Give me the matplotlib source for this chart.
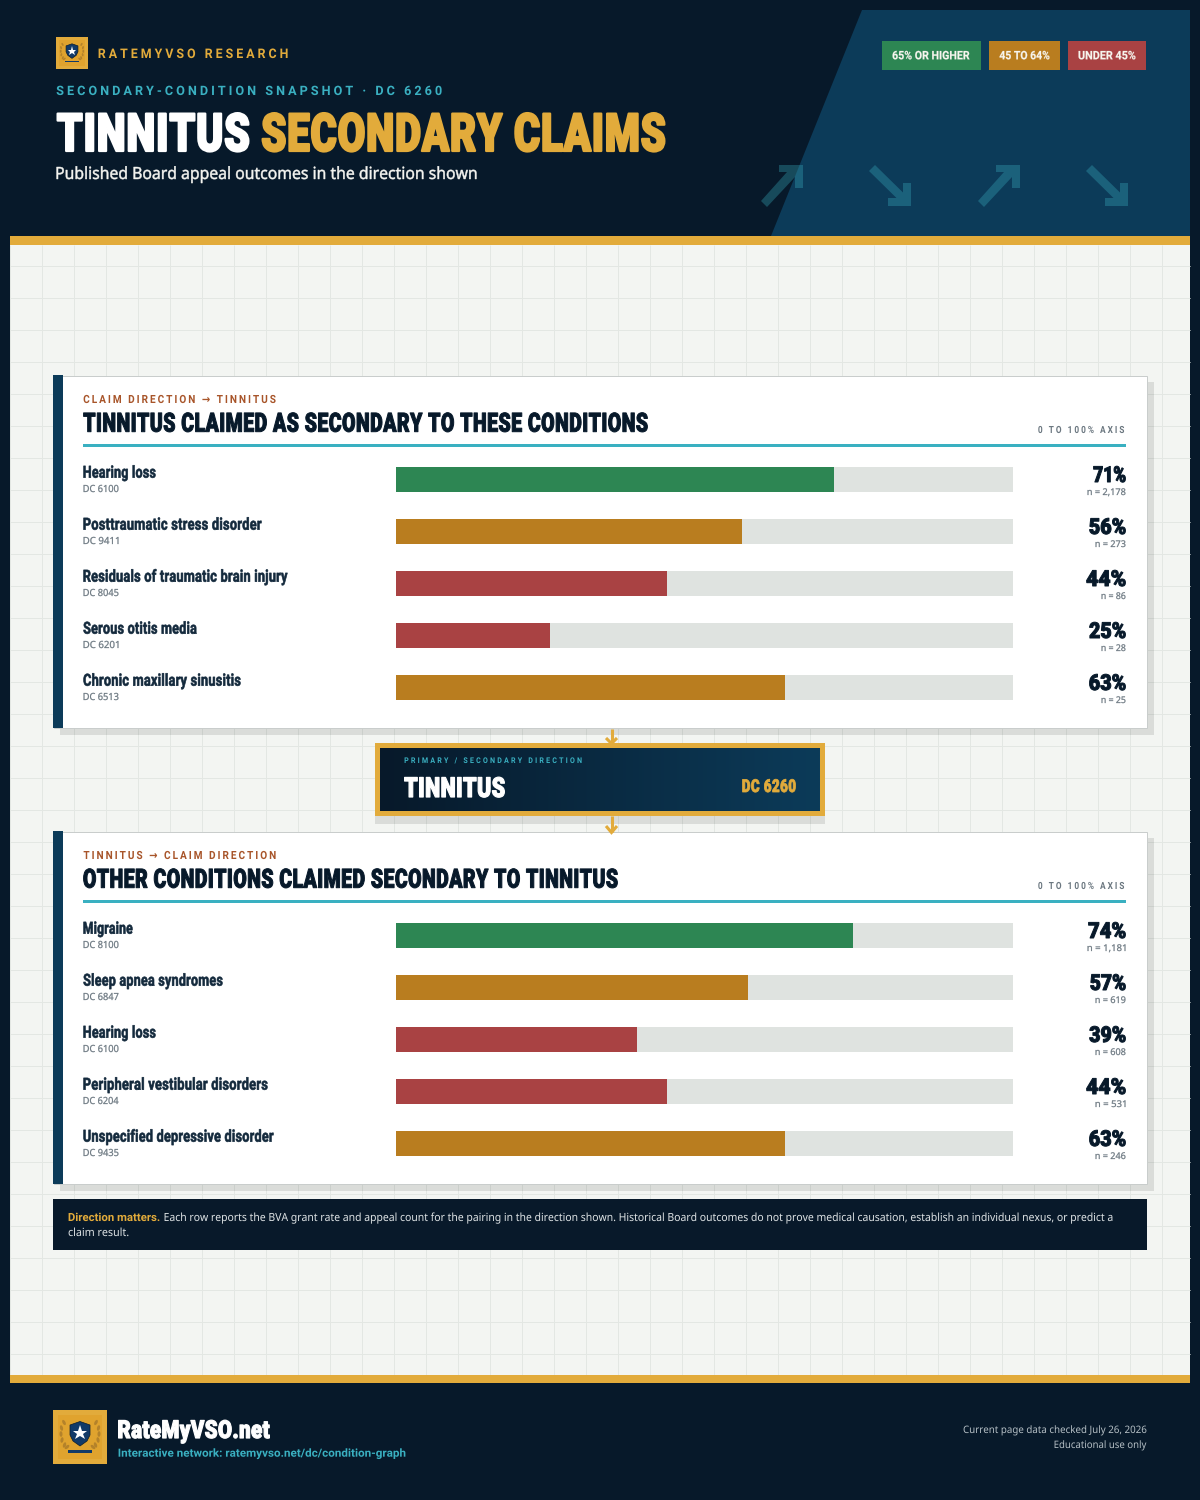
import numpy as np
import matplotlib
matplotlib.use("Agg")
import matplotlib.pyplot as plt
from matplotlib import font_manager as fm
from matplotlib.text import Text
from matplotlib.textpath import TextPath
from matplotlib.path import Path
from matplotlib.patches import Rectangle, Polygon, Ellipse
from matplotlib.transforms import Affine2D, Bbox
from matplotlib.ft2font import LoadFlags, FT2Font
from matplotlib.colors import LinearSegmentedColormap, to_rgba

# ---------- data ----------
top_names = ["Hearing loss", "Posttraumatic stress disorder", "Residuals of traumatic brain injury",
             "Serous otitis media", "Chronic maxillary sinusitis"]
top_codes = ["DC 6100", "DC 9411", "DC 8045", "DC 6201", "DC 6513"]
top_rates = [71, 56, 44, 25, 63]
top_counts = ["n = 2,178", "n = 273", "n = 86", "n = 28", "n = 25"]

bottom_names = ["Migraine", "Sleep apnea syndromes", "Hearing loss",
                "Peripheral vestibular disorders", "Unspecified depressive disorder"]
bottom_codes = ["DC 8100", "DC 6847", "DC 6100", "DC 6204", "DC 9435"]
bottom_rates = [74, 57, 39, 44, 63]
bottom_counts = ["n = 1,181", "n = 619", "n = 608", "n = 531", "n = 246"]

# ---------- layout (ink extents in px) ----------
top_name_right = [156, 262, 288, 197, 241]
bottom_name_right = [133, 223, 156, 268, 274]
top_pct_left = [1093, 1089, 1086, 1089, 1089]
bottom_pct_left = [1088, 1090, 1089, 1086, 1089]
top_n_left = [1087, 1095, 1101, 1101, 1101]
bottom_n_left = [1087, 1095, 1095, 1095, 1095]

INK = "#07192a"; NAVY = "#0c3b59"; GOLD = "#e2ab3b"; TEAL = "#3ab0c1"
GREEN = "#2d8653"; AMBER = "#b97d1f"; RED = "#a94243"
PAGE = "#f3f5f2"; GRID = "#e3e7e3"; TRACK = "#dfe3e0"; RUST = "#a8552a"; GREY = "#6b7780"

fig = plt.figure(figsize=(12, 15), dpi=100, facecolor=INK)
bg = fig.add_axes([0, 0, 1, 1], zorder=0)
bg.set_xlim(0, 1200); bg.set_ylim(1500, 0); bg.axis("off")

HEAVY = fm.FontProperties(family=["Roboto", "DejaVu Sans"], weight=900)
BOLD = fm.FontProperties(family=["Roboto", "DejaVu Sans"], weight=700)
SEMI = fm.FontProperties(family=["Noto Sans", "DejaVu Sans"], weight=600)
REG = fm.FontProperties(family=["Noto Sans", "DejaVu Sans"], weight=400)


class PxText(Text):
    """Real text artist with cap-height sizing, horizontal fit and letter spacing."""

    def __init__(self, x, y, s, prop, cap, x2=None, track=0.0, xs=1.0, ha="left", stroke=0.0, color="k", **kw):
        ffile = fm.findfont(prop)
        font = FT2Font(ffile)
        capratio = TextPath((0, 0), "H", size=100, prop=prop).get_extents().height / 100.0
        px = cap / capratio
        super().__init__(x, y, s, fontproperties=prop.copy(), color=color, ha=ha, va="baseline", **kw)
        font.set_size(100, 72)
        dj = fm.FontProperties(family="DejaVu Sans", weight=prop.get_weight(), size=100)
        djfont = FT2Font(fm.findfont(dj))
        djfont.set_size(100, 72)
        pieces = []
        pen = 0.0
        for i, c in enumerate(s):
            has = font.get_char_index(ord(c)) != 0
            f, fp = (font, prop) if has else (djfont, dj)
            g = f.load_char(ord(c), flags=LoadFlags.NO_HINTING)
            adv = g.linearHoriAdvance / 65536 / 100 * px
            if c != " ":
                p = TextPath((0, 0), c, size=px, prop=fp)
                pieces.append((pen, p.vertices.copy(), p.codes.copy(), i))
            pen += adv
        xs0 = []
        for off, v, co, i in pieces:
            m = co != Path.CLOSEPOLY
            xs0 += [v[m, 0].min() + off, v[m, 0].max() + off]
        lo, hi = min(xs0), max(xs0)
        if x2 is not None:
            xs = (x2 - x - track * (len(s) - 1)) / (hi - lo)
        # nominal size reflects the horizontal fit so measured text width stays honest
        self.set_fontsize(px * 72 / 100 * min(1.0, xs))
        vs, cs = [], []
        for off, v, co, i in pieces:
            v = v.copy()
            v[:, 0] = (v[:, 0] + off) * xs + i * track
            vs.append(v); cs.append(co)
        V = np.vstack(vs); C = np.concatenate(cs)
        m = C != Path.CLOSEPOLY
        self._ink_l = V[m, 0].min(); self._ink_r = V[m, 0].max()
        self._ink_b = V[m, 1].min(); self._ink_t = V[m, 1].max()
        self._glyphs = Path(V, C)
        self._stroke = stroke

    def _origin(self):
        dx, dy = self.get_transform().transform(self.get_unitless_position())
        dx -= self._ink_r if self.get_ha() == "right" else self._ink_l
        return dx, dy

    def draw(self, renderer):
        if not self.get_visible():
            return
        dx, dy = self._origin()
        gc = renderer.new_gc()
        col = to_rgba(self.get_color())
        gc.set_foreground(col)
        gc.set_linewidth(self._stroke * 72 / 100)
        gc.set_antialiased(True)
        renderer.draw_path(gc, self._glyphs, Affine2D().translate(dx, dy), col)
        gc.restore()

    def get_window_extent(self, renderer=None, dpi=None):
        dx, dy = self._origin()
        return Bbox([[dx + self._ink_l, dy + self._ink_b], [dx + self._ink_r, dy + self._ink_t]])


def T(x, y, s, prop, cap, **kw):
    zorder = kw.pop("zorder", 10)
    if kw.get("x2") is not None:
        x = x + 0.6
        kw["x2"] = kw["x2"] - 0.6 - (0.8 if kw.get("track", 0) > 1 else 0)
    t = PxText(x, y, s, prop, cap, zorder=zorder, **kw)
    bg.add_artist(t)
    t.set_clip_on(False)
    return t


def R(x0, y0, x1, y1, color, z=1, **kw):
    r = Rectangle((x0, y0), x1 - x0, y1 - y0, facecolor=color, edgecolor="none", zorder=z, **kw)
    bg.add_patch(r)
    return r


# ---------- page ----------
R(10, 245, 1190, 1375, PAGE, z=0.5)
gx = np.arange(10, 1191, 32); gy = np.arange(266, 1375, 32)
bg.vlines(gx, 245, 1375, color=GRID, lw=0.72, zorder=0.6)
bg.hlines(gy, 10, 1190, color=GRID, lw=0.72, zorder=0.6)
R(10, 236, 1190, 245, GOLD, z=3)
R(10, 1375, 1190, 1383, GOLD, z=3)

# ---------- header ----------
bg.add_patch(Polygon([(862, 10), (1190, 10), (1190, 236), (771, 236)], closed=True, fc=NAVY, ec="none", zorder=1))


def arrow(dx, up):
    if up:
        pts = [(761, 201), (787, 172), (779, 172), (779, 165), (803, 165), (803, 188), (795, 188), (795, 177), (767, 207)]
    else:
        pts = [(869, 171), (896.5, 198), (888, 198), (888, 206), (911, 206), (911, 183), (903, 183), (903, 192.5), (875, 165)]
    bg.add_patch(Polygon([(a + dx, b) for a, b in pts], closed=True, fc=TEAL, ec="none", alpha=0.33, zorder=1.5))


arrow(0, True); arrow(0, False); arrow(217, True); arrow(217, False)

for (a, b, col, lab, l2, r2) in [(882, 981, GREEN, "65% OR HIGHER", 892, 970),
                                 (989, 1060, AMBER, "45 TO 64%", 999, 1050),
                                 (1068, 1146, RED, "UNDER 45%", 1078, 1136)]:
    R(a, 41, b, 70, col, z=2)
    T(l2, 59.3, lab, BOLD, 8.3, x2=r2, color="#f7f5ee", stroke=0.2)


def logo(x, y, s):
    u = s / 54.0
    R(x, y, x + s, y + s, GOLD, z=4)
    R(x + 5 * u, y + 5 * u, x + s - 5 * u, y + s - 5 * u, "#e0a32e", z=4.1)
    cx = x + 27 * u; cy = y + 22 * u
    sh = [(-10, -7), (0, -10.5), (10, -7), (10, 3), (7, 9), (0, 14), (-7, 9), (-10, 3)]
    bg.add_patch(Polygon([(cx + a * u, cy + b * u) for a, b in sh], closed=True, fc="#123a68", ec="#0b1c2c", lw=0.5, zorder=4.3))
    bg.plot([cx], [cy + 1 * u], marker="*", ms=11 * u * 0.72 * 1.4, mfc="white", mec="white", mew=0, zorder=4.4)
    for side in (-1, 1):
        for a, b, ang in [(15.5, 13, 20), (18, 8, 10), (19, 2, -2), (18.5, -4, -15), (16, -9.5, -28), (13, 15, 50)]:
            bg.add_patch(Ellipse((cx + side * a * u, cy + b * u), 3.0 * u, 5.6 * u, angle=side * (-ang), fc="#b4822a", ec="none", zorder=4.2))
    R(cx - 12 * u, y + 40 * u, cx + 12 * u, y + 43 * u, "#123a68", z=4.3)


logo(56, 37, 32)
T(98, 58, "RATEMYVSO RESEARCH", BOLD, 9.4, x2=289, track=3.0, color=GOLD)
T(56, 95, "SECONDARY-CONDITION SNAPSHOT · DC 6260", BOLD, 9.2, x2=443, track=3.0, color=TEAL)
T(57, 151, "TINNITUS", HEAVY, 37.4, x2=249, track=1.0, color="#ffffff", stroke=2.2)
T(262, 151, "SECONDARY CLAIMS", HEAVY, 37.4, x2=665, track=1.0, color=GOLD, stroke=2.2)
T(56, 179, "Published Board appeal outcomes in the direction shown", SEMI, 12, x2=477, color="#f4f4f0", stroke=0.45)


# ---------- panels ----------
def tier(v):
    return GREEN if v >= 65 else AMBER if v >= 45 else RED


def panel(top, eyebrow, title, title_right, names, name_right, codes, rates, counts, pct_left, n_left):
    R(60, top + 7, 1154, top + 360, "#000000", z=1, alpha=0.1)
    bg.add_patch(Rectangle((53.5, top + 0.5), 1093, 352, fc="white", ec="#c9cdcc", lw=0.72, zorder=1.2))
    R(53, top, 63, top + 353, NAVY, z=1.3)
    T(83, top + 28, eyebrow, BOLD, 8, x2=277, track=2.0, color=RUST)
    T(83, top + 56.7, title, HEAVY, 18.8, x2=title_right, track=0.5, color=INK, stroke=1.0)
    R(83, top + 69, 1126, top + 72, TEAL, z=1.4)
    T(1037.7, top + 58, "0 TO 100% AXIS", BOLD, 7, x2=1125.5, track=2.0, color=GREY)
    ax = fig.add_axes([396 / 1200, 1 - (top + 325) / 1500, 617 / 1200, 233 / 1500], zorder=1)
    ax.patch.set_alpha(0)
    pos = np.arange(len(rates))
    ax.barh(pos, [100] * len(rates), height=25 / 52, color=TRACK)
    ax.barh(pos, rates, height=25 / 52, color=[tier(v) for v in rates])
    ax.set_xlim(0, 100); ax.set_ylim(4 + 12.5 / 52, -12.5 / 52); ax.axis("off")
    for k in range(len(rates)):
        y = top + 52 * k
        T(83, y + 102.7, names[k], BOLD, 11.8, x2=name_right[k], track=0.25, color="#13293c", stroke=0.6)
        T(83, y + 117, codes[k], SEMI, 7, x2=119, color=GREY, stroke=0.25)
        T(pct_left[k], y + 107, f"{rates[k]}%", HEAVY, 15.6, x2=1126, color=INK, stroke=1.0)
        T(n_left[k], y + 120, counts[k], SEMI, 6.6, x2=1126, color=GREY, stroke=0.25)


panel(375, "CLAIM DIRECTION → TINNITUS", "TINNITUS CLAIMED AS SECONDARY TO THESE CONDITIONS", 648,
      top_names, top_name_right, top_codes, top_rates, top_counts, top_pct_left, top_n_left)
panel(831, "TINNITUS → CLAIM DIRECTION", "OTHER CONDITIONS CLAIMED SECONDARY TO TINNITUS", 618,
      bottom_names, bottom_name_right, bottom_codes, bottom_rates, bottom_counts, bottom_pct_left, bottom_n_left)

# ---------- centre node ----------
R(375, 816, 825, 824, "#000000", z=5, alpha=0.1)
R(375, 743, 825, 816, GOLD, z=5.1)
ramp = np.linspace(0, 1, 256)[None, :]
cm = LinearSegmentedColormap.from_list("g", [INK, NAVY])
bg.imshow(ramp, extent=(380, 820, 811, 748), cmap=cm, aspect="auto", zorder=5.2, interpolation="bilinear")
bg.set_xlim(0, 1200); bg.set_ylim(1500, 0)
for ys, ye, hy0, hy1 in [(729, 744, 738, 743.5), (816, 832, 826, 832.5)]:
    z = 5.05 if ys < 800 else 5.3
    bg.plot([611.5, 611.5], [ys, ye], color=GOLD, lw=2.2, solid_capstyle="butt", zorder=z)
    bg.plot([606, 611.5, 617], [hy0, hy1, hy0], color=GOLD, lw=2.2, solid_joinstyle="miter", solid_capstyle="butt", zorder=z)
T(404, 763, "PRIMARY / SECONDARY DIRECTION", BOLD, 5.6, x2=583, track=2.2, color=TEAL)
T(404, 797, "TINNITUS", HEAVY, 19.6, x2=505, track=0.5, color="white", stroke=1.2)
T(742, 792, "DC 6260", HEAVY, 12.6, x2=796, track=0.5, color=GOLD, stroke=0.8)

# ---------- note ----------
R(53, 1199, 1147, 1250, "#08192a", z=2)
T(68, 1221, "Direction matters.", BOLD, 8, x2=160, color=GOLD)
T(164, 1221, "Each row reports the BVA grant rate and appeal count for the pairing in the direction shown. Historical Board outcomes do not prove medical causation, establish an individual nexus, or predict a",
  REG, 8, x2=1113, color="#dde2e4")
T(68, 1236, "claim result.", REG, 8, x2=129, color="#dde2e4")

# ---------- footer ----------
logo(53, 1410, 54)
T(118, 1438, "RateMyVSO.net", HEAVY, 17.6, x2=270, track=0.5, color="white", stroke=1.2)
T(118, 1456.7, "Interactive network: ratemyvso.net/dc/condition-graph", BOLD, 8, x2=406, color=TEAL)
T(963, 1433, "Current page data checked July 26, 2026", REG, 7.3, x2=1147, color="#b4bec4")
T(1054, 1448, "Educational use only", REG, 7.3, x2=1147, color="#b4bec4")

fig.savefig("out.png", dpi=100, facecolor=INK)
